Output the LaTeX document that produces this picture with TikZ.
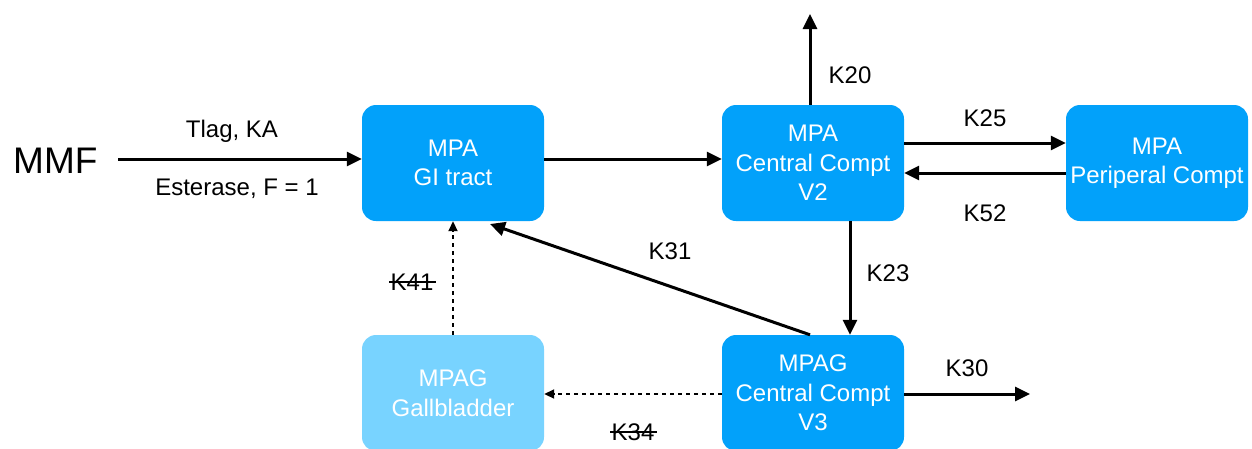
\documentclass[tikz,border=0pt]{standalone}
\usepackage{fontspec}
\setmainfont{Liberation Sans}
\usetikzlibrary{arrows.meta}
\definecolor{boxblue}{RGB}{2,161,250}
\definecolor{boxlight}{RGB}{120,211,255}
\tikzset{
  comp/.style={fill=boxblue, rounded corners=14pt, minimum width=182pt, minimum height=116pt,
    text=white, align=center, font=\fontsize{24}{29.5}\selectfont, inner sep=0pt},
  lightcomp/.style={comp, fill=boxlight},
  flow/.style={line width=3pt, -{Triangle[length=15pt,width=14pt]}},
  dflow/.style={line width=1.8pt, dash pattern=on 4pt off 4pt, -{Triangle[length=10pt,width=9pt]}},
  lab/.style={font=\fontsize{24}{28}\selectfont, inner sep=0pt},
  strike/.style={line width=1.6pt}
}
\begin{document}
\begin{tikzpicture}[x=1pt,y=-1pt]
\useasboundingbox (0,0) rectangle (1252,448);
\clip (0,0) rectangle (1252,448);
\fill[white] (0,0) rectangle (1252,448);
\node[comp] (gi) at (453,163) {MPA\\GI tract};
\node[comp] (v2) at (813,163) {MPA\\Central Compt\\V2};
\node[comp] (per) at (1157,163) {MPA\\Periperal Compt};
\node[comp] (v3) at (813,393) {MPAG\\Central Compt\\V3};
\node[lightcomp] (gb) at (453,393) {MPAG\\Gallbladder};
\node[font=\fontsize{37}{40}\selectfont, inner sep=0pt, anchor=west] (mmf) at (13,161) {MMF};
\coordinate (mmfend) at (118,159);
\coordinate (k20end) at (810,14);
\coordinate (k30end) at (1030,394);
\coordinate (k31end) at (490,224);

\draw[flow] (mmfend) -- (gi.west |- mmfend);
\node[lab] (tlag) at (232,131) {Tlag, KA};
\node[lab] (est) at (237,189) {Esterase, F = 1};

\draw[flow] (gi.east |- 0,159) -- (v2.west |- 0,159);

\draw[flow] (v2.north -| k20end) -- (k20end);
\node[lab] (k20) at (850,75) {K20};

\draw[flow] (v2.east |- 0,143) -- (per.west |- 0,143);
\node[lab] (k25) at (985,118) {K25};
\draw[flow] (per.west |- 0,173) -- (v2.east |- 0,173);
\node[lab] (k52) at (985,213) {K52};

\draw[flow] (v2.south -| 850,0) -- (v3.north -| 850,0);
\node[lab] (k23) at (888,273) {K23};

\draw[flow] (v3.north -| 810,0) -- (k31end);
\node[lab] (k31) at (670,251) {K31};

\draw[flow] (v3.east |- k30end) -- (k30end);
\node[lab] (k30) at (967,368) {K30};

\draw[dflow] (gb.north) -- (gi.south);
\node[lab] (k41) at (412,282) {K41};
\draw[strike] ([xshift=-1pt]k41.west) -- ([xshift=2pt]k41.east);

\draw[dflow] (v3.west |- 0,394) -- (gb.east |- 0,394);
\node[lab] (k34) at (633,432) {K34};
\draw[strike] ([xshift=-1pt]k34.west) -- ([xshift=2pt]k34.east);
\end{tikzpicture}
\end{document}
